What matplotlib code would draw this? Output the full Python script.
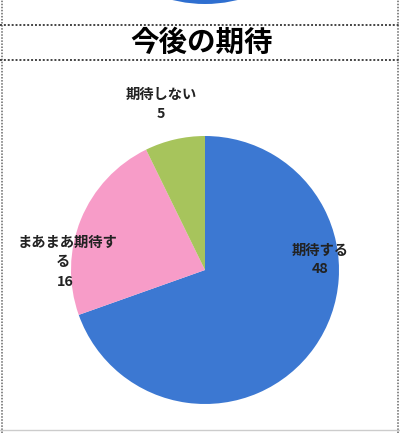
import matplotlib
matplotlib.use("Agg")
import matplotlib.pyplot as plt
from matplotlib.patches import Circle

plt.rcParams['font.family'] = ['Noto Sans CJK JP', 'DejaVu Sans']

title = "今後の期待"
categories = ["期待する", "まあまあ期待する", "期待しない"]
values = [48, 16, 5]
colors = ["#3C78D2", "#F79CC8", "#A7C45C"]

W, H = 400, 433
fig = plt.figure(figsize=(W / 100, H / 100), dpi=100)
ax = fig.add_axes([0, 0, 1, 1])
ax.set_xlim(0, W)
ax.set_ylim(0, H)
ax.set_aspect('equal')
ax.axis('off')

def Y(py):
    return H - py

# partial pie of previous chart at the top
ax.add_patch(Circle((205, Y(4 - 134)), 134, color="#2F6FD0", lw=0))

# frame lines
ax.plot([2, 2], [0, H], color="#666666", lw=1.1, ls=(0, (1, 1)))
ax.plot([398, 398], [0, H], color="#666666", lw=1.1, ls=(0, (1, 1)))
ax.plot([0, W], [Y(25), Y(25)], color="#444444", lw=1.4, ls=(0, (1, 1)))
ax.plot([0, W], [Y(60), Y(60)], color="#444444", lw=1.4, ls=(0, (1, 1)))
ax.plot([0, W], [Y(430), Y(430)], color="#cccccc", lw=1)

ax.text(202, Y(43), title, ha='center', va='center', fontsize=20.5, fontweight='bold')

ax.pie(values, colors=colors, startangle=90, counterclock=False,
       center=(205, Y(270)), radius=134, wedgeprops=dict(linewidth=0),
       frame=True)
ax.set_xlim(0, W)
ax.set_ylim(0, H)
ax.axis('off')

lab_kw = dict(ha='center', va='center', fontsize=10.3, fontweight='bold', color='#222222')
ax.text(161, Y(95), "期待しない", **lab_kw)
ax.text(161, Y(114), str(values[2]), **lab_kw)
ax.text(67, Y(243), "まあまあ期待す", **lab_kw)
ax.text(63, Y(262), "る", **lab_kw)
ax.text(65, Y(282), str(values[1]), **lab_kw)
ax.text(320, Y(251), "期待する", **lab_kw)
ax.text(320, Y(269), str(values[0]), **lab_kw)

fig.savefig("out.png", dpi=100)
